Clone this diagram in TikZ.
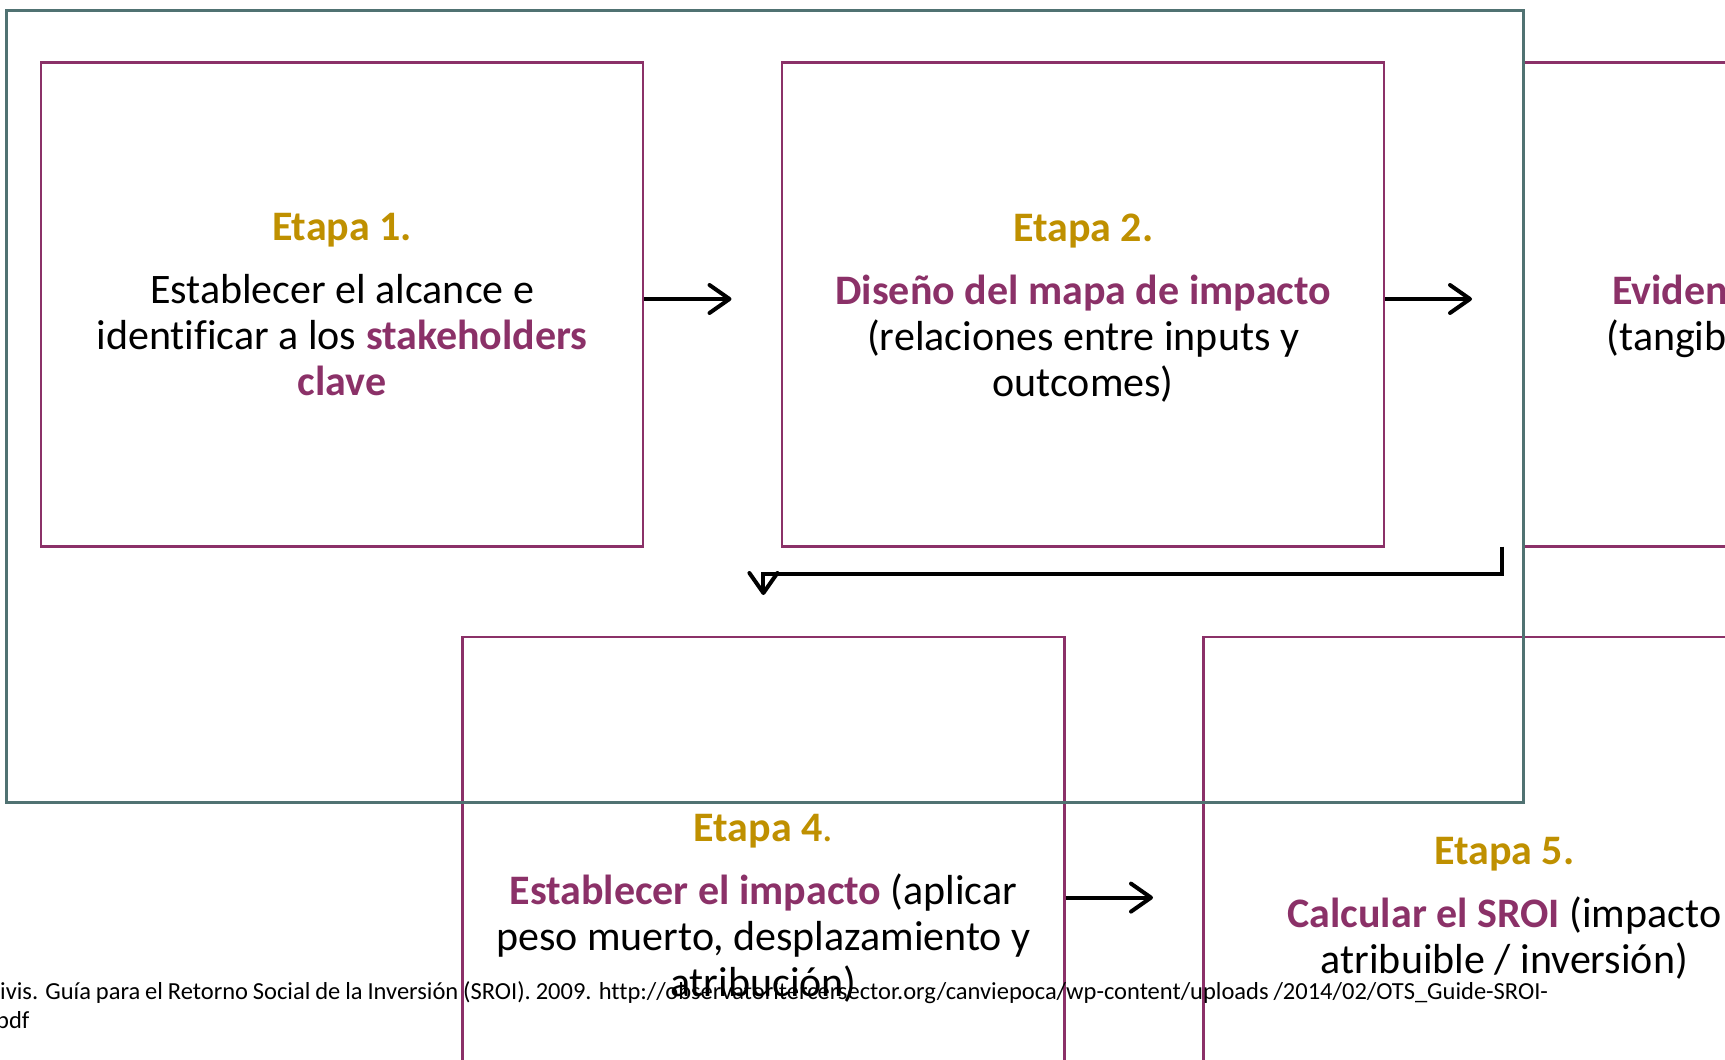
\documentclass[tikz,border=0pt]{standalone}
\usepackage{fontspec}
\setmainfont{Carlito}[Ligatures=NoCommon]
\usepackage{tikz}
\usetikzlibrary{arrows.meta}
\usepackage{xcolor}
\definecolor{stagegold}{RGB}{191,144,0}
\definecolor{stagepurple}{RGB}{139,49,104}
\definecolor{frameteal}{RGB}{80,114,114}
\tikzset{
  stage/.style={draw=stagepurple, line width=2.5pt, minimum width=602pt, minimum height=484pt, inner sep=0pt, align=center, font=\fontsize{42}{46}\selectfont},
  lowstage/.style={stage, minimum height=536pt},
  flow/.style={line width=4pt, -{Straight Barb[length=20pt,width=28pt,line cap=round,line join=round]}},
  bodytext/.style={inner sep=0pt, font=\fontsize{42}{46}\selectfont},
  srctext/.style={inner sep=0pt, anchor=base west, font=\fontsize{24.5}{29}\selectfont},
}
\newcommand{\etapa}[1]{\rule{0pt}{34pt}\textcolor{stagegold}{\textbf{#1}}}
\newcommand{\keyword}[1]{\textcolor{stagepurple}{\textbf{#1}}}

\begin{document}
\begin{tikzpicture}[x=1pt,y=1pt,yscale=-1,xscale=1]
\useasboundingbox (0,0) rectangle (1725,1060);
\clip (0,0) rectangle (1725,1060);

%Shape: Rectangle [stage 1]
\node (box1) at (342.1,304.7) [stage] {\etapa{Etapa 1.}\\[17pt]
  Establecer el alcance e\\ identificar a los \keyword{stakeholders}\\ \keyword{clave}\rule[-7pt]{0pt}{7pt}};
%Shape: Rectangle [stage 2]
\node (box2) at (1083.2,304.7) [stage] {\etapa{Etapa 2.}\\[17pt]
  \keyword{Diseño del mapa de impacto}\\ (relaciones entre inputs y\\ outcomes)};
%Shape: Rectangle [stage 3]
\node (box3) at (1824.5,304.7) [stage] {};
% Text Node
\node (txt3a) at (1612,304) [bodytext, anchor=base west] {\keyword{Eviden}};
% Text Node
\node (txt3b) at (1606.5,350) [bodytext, anchor=base west] {(tangib};
%Shape: Rectangle [stage 4]
\node (box4) at (763.4,905) [lowstage] {\etapa{Etapa 4}\textcolor{stagegold}{.}\\[17pt]
  \keyword{Establecer el impacto} (aplicar\\ peso muerto, desplazamiento y\\ atribución)};
%Shape: Rectangle [stage 5]
\node (box5) at (1504.4,905) [lowstage] {\etapa{Etapa 5.}\\[17pt]
  \keyword{Calcular el SROI} (impacto\\ atribuible / inversión)};

%Shape: Rectangle [frame]
\draw [frameteal, line width=3pt] (6,10) rectangle (1523.5,802);

%Straight Lines [arrows]
\coordinate (a12) at (731.5,299);
\coordinate (a23) at (1472,299);
\coordinate (a45) at (1153,897.6);
\coordinate (s34) at (1501.7,546.7);
\coordinate (k34) at (763.4,574);
\coordinate (e34) at (763.4,595);
\draw [flow] (box1.east |- a12) -- (a12);
\draw [flow] (box2.east |- a23) -- (a23);
\draw [flow] (box4.east |- a45) -- (a45);
\draw [flow] (s34) |- (k34) -- (e34);

% Text Node
\node (src1) at (0,999) [srctext]
  {\makebox[1548pt][s]{ivis. Guía para el Retorno Social de la Inversión (SROI). 2009. http://observatoritercersector.org/canviepoca/wp-content/uploads /2014/02/OTS\_Guide-SROI-}};
% Text Node
\node (src2) at (-4,1028) [srctext] {pdf};

\end{tikzpicture}
\end{document}
